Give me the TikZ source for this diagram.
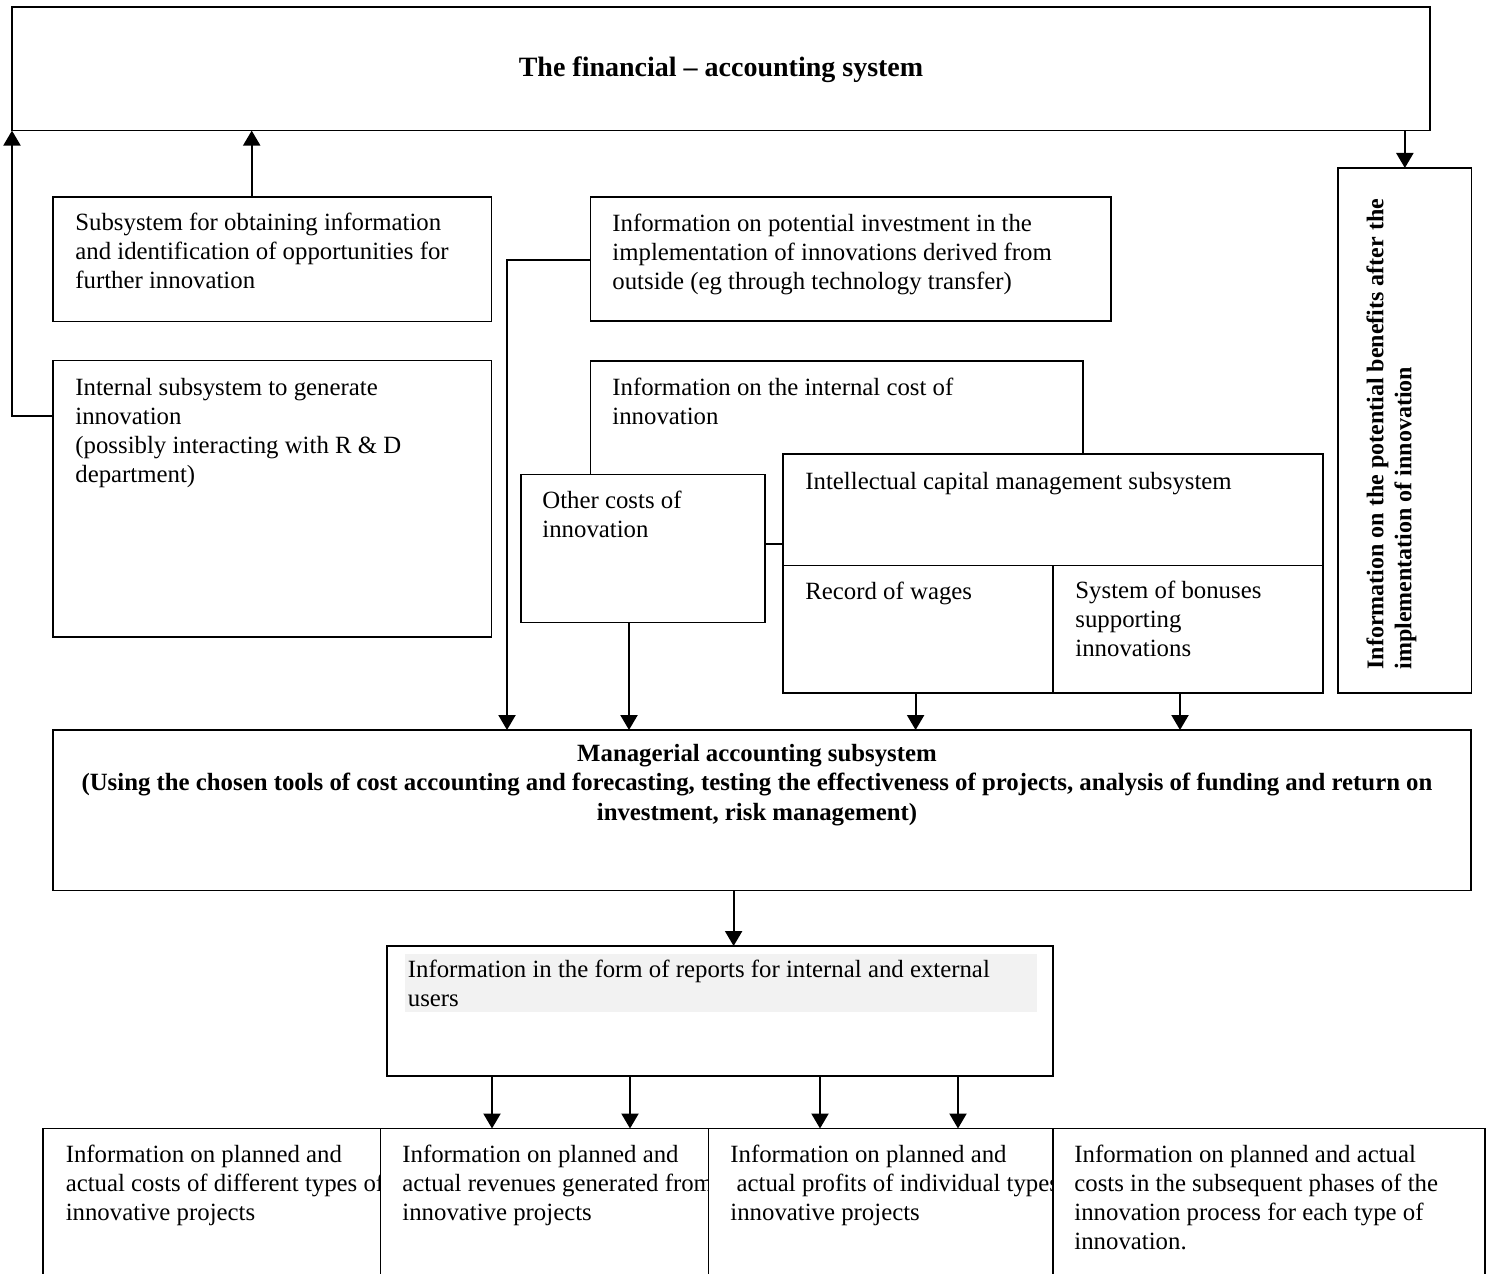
\documentclass[tikz,border=0pt]{standalone}
\usepackage{fontspec}
\setmainfont{Liberation Serif}
\usetikzlibrary{arrows.meta,calc}
\definecolor{hl}{HTML}{F2F2F2}
\newcommand\mybox[5]{\node[box, minimum width={(#4-#2)*0.5pt}, minimum height={(#5-#3)*0.5pt}] (#1) at (#2,#3) {};}
\begin{document}
\begin{tikzpicture}[x=0.5pt,y=-0.5pt,
  box/.style={draw, line width=0.75pt, fill=white, outer sep=0pt, inner sep=0pt, anchor=north west},
  txt/.style={anchor=north west, inner sep=0pt, align=left, font=\fontsize{12.4}{14.5}\selectfont},
  btxt/.style={inner sep=0pt, align=center, font=\bfseries\fontsize{12.4}{14.75}\selectfont},
  arr/.style={line width=1.1pt, -{Triangle[length=7.5pt,width=8.5pt]}}]
\useasboundingbox (0,0) rectangle (1491,1273);
\clip (0,0) rectangle (1491,1273);

% top system
\mybox{fin}{12}{7}{1430}{130.6}
\node[inner sep=0pt, anchor=base, font=\bfseries\fontsize{14}{16}\selectfont] (fint) at (721,77) {The financial -- accounting system};

% left column
\mybox{sub}{53}{197}{491.5}{321.5}
\node[txt] (subt) at (75,209.7) {\strut Subsystem for obtaining information\\and identification of opportunities for\\further innovation};
\mybox{gen}{53}{360.7}{491.5}{637}
\node[txt] (gent) at (75,374.7) {\strut Internal subsystem to generate\\innovation\\(possibly interacting with R \& D\\department)};

% middle
\mybox{pot}{590.5}{197}{1111}{321}
\node[txt] (pott) at (612,210.7) {\strut Information on potential investment in the\\implementation of innovations derived from\\outside (eg through technology transfer)};
\mybox{ic}{590.5}{361}{1083}{544}
\node[txt] (ict) at (612,374.3) {\strut Information on the internal cost of\\innovation};
\mybox{oth}{521}{474.5}{765}{622.7}
\node[txt] (otht) at (542,487.7) {\strut Other costs of\\innovation};
\mybox{int}{783}{454}{1323}{565.5}
\node[txt] (intt) at (805,468.3) {\strut Intellectual capital management subsystem};
\mybox{rec}{783}{565.5}{1053}{693}
\node[txt] (rect) at (805,578.7) {\strut Record of wages};
\mybox{bon}{1053}{565.5}{1323}{693}
\node[txt] (bont) at (1075,577.7) {\strut System of bonuses\\supporting\\innovations};

% right benefits box
\mybox{ben}{1338}{168}{1471.7}{693}
\node[inner sep=0pt, align=left, rotate=90, anchor=north west, font=\bfseries\fontsize{12}{14}\selectfont] (bent) at (1363.4,670) {\strut Information on the potential benefits after the\\implementation of innovation};

% managerial
\mybox{man}{53}{730}{1471}{890.5}
\node[btxt, anchor=north] (mant) at (757,740) {\strut Managerial accounting subsystem\\(Using the chosen tools of cost accounting and forecasting, testing the effectiveness of projects, analysis of funding and return on\\investment, risk management)};

% reports
\mybox{rep}{387}{946}{1053}{1076}
\fill[hl] (404.5,954) rectangle (1037,1011.7);
\node[txt] (rept) at (407.5,956.4) {\strut Information in the form of reports for internal and external\\users};

% bottom row
\mybox{bA}{43}{1128.5}{380.5}{1300}
\node[txt] (bAt) at (65.4,1141.7) {\strut Information on planned and\\actual costs of different types of\\innovative projects};
\mybox{bB}{380.5}{1128.5}{708.5}{1300}
\node[txt] (bBt) at (402,1141.7) {\strut Information on planned and\\actual revenues generated from\\innovative projects};
\mybox{bC}{708.5}{1128.5}{1053}{1300}
\node[txt] (bCt) at (730,1141.7) {\strut Information on planned and\\\hspace*{0.25em}actual profits of individual types of\\innovative projects};
\mybox{bD}{1053}{1128.5}{1485}{1300}
\node[txt] (bDt) at (1074,1141.7) {\strut Information on planned and actual\\costs in the subsequent phases of the\\innovation process for each type of\\innovation.};

% connectors
\draw[arr] ($(gen.north west)+(0,55.5)$) -| (fin.south west);
\draw[arr] ($(sub.north west)+(198.7,0)$) coordinate (c1) -- (c1 |- fin.south);
\draw[arr] (ben.north |- fin.south) -- (ben.north);
\draw[arr] ($(pot.north west)+(0,63)$) -| ($(man.north west)+(454,0)$);
\draw[arr] ($(oth.south west)+(108,0)$) coordinate (c2) -- (c2 |- man.north);
\draw[arr] ($(rec.south west)+(132.6,0)$) coordinate (c3) -- (c3 |- man.north);
\draw[arr] ($(bon.south west)+(127,0)$) coordinate (c4) -- (c4 |- man.north);
\draw[arr] ($(man.south west)+(680.6,0)$) coordinate (c5) -- (c5 |- rep.north);
\draw[arr] ($(rep.south west)+(105,0)$) coordinate (c6) -- (c6 |- bB.north);
\draw[arr] ($(rep.south west)+(243,0)$) coordinate (c7) -- (c7 |- bB.north);
\draw[arr] ($(rep.south west)+(433,0)$) coordinate (c8) -- (c8 |- bC.north);
\draw[arr] ($(rep.south west)+(571,0)$) coordinate (c9) -- (c9 |- bC.north);
\end{tikzpicture}
\end{document}
